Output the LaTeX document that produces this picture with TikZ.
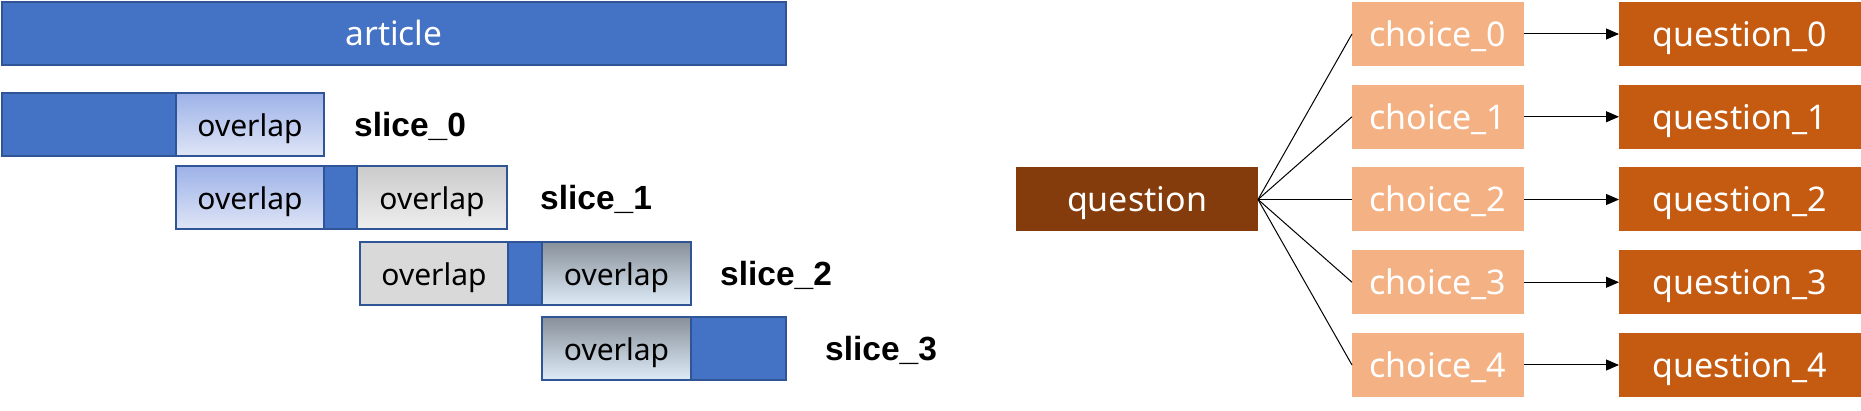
\documentclass[tikz,border=0pt]{standalone}
\usepackage{fontspec}
\setmainfont{Noto Sans}
\newfontfamily\labfont{Liberation Sans}
\usetikzlibrary{arrows.meta}
\definecolor{ablue}{HTML}{4472C4}
\definecolor{aborder}{HTML}{2F5597}
\definecolor{ovAtop}{RGB}{158,178,232}
\definecolor{ovAbot}{RGB}{222,229,246}
\definecolor{gtop}{RGB}{203,203,203}
\definecolor{gbot}{RGB}{238,238,238}
\definecolor{gflat}{HTML}{D9D9D9}
\definecolor{ovCtop}{RGB}{136,144,154}
\definecolor{ovCbot}{RGB}{222,236,248}
\definecolor{qdark}{HTML}{843C0C}
\definecolor{qmid}{HTML}{C55A11}
\definecolor{qlight}{HTML}{F4B183}
\tikzset{
  part/.style={anchor=north west, inner sep=0pt, outer sep=0pt, draw=aborder, line width=1.6pt,
    minimum height=63pt, text height=25pt, text depth=0pt,
    font=\fontsize{30}{33}\selectfont, text=black},
  bluepart/.style={part, fill=ablue},
  ovA/.style={part, top color=ovAtop, bottom color=ovAbot},
  ovG/.style={part, top color=gtop, bottom color=gbot},
  ovF/.style={part, fill=gflat},
  ovC/.style={part, top color=ovCtop, bottom color=ovCbot},
  slicelabel/.style={anchor=base west, inner sep=0pt, font=\labfont\bfseries\fontsize{33.5}{37}\selectfont, text=black},
  qbox/.style={anchor=north west, inner sep=0pt, outer sep=0pt, minimum height=64pt,
    text height=25pt, text depth=0pt, font=\fontsize{34}{37}\selectfont, text=white},
  conn/.style={draw=black, line width=1pt},
  arr/.style={conn, -{Triangle[length=13pt,width=11pt]}}
}
\begin{document}
\begin{tikzpicture}[x=1pt,y=-1pt]
\useasboundingbox (0,0) rectangle (1861,411);
% article
\node[bluepart, minimum width=784pt, text=white, font=\fontsize{33.5}{37}\selectfont] (article) at (2,2) {article};
% slice 0
\node[bluepart, minimum width=174pt] (s0a) at (2,93) {};
\node[ovA, minimum width=148pt] (s0b) at (176,93) {overlap};
\node[slicelabel] (l0) at (354,137) {slice\_0};
% slice 1
\node[ovA, minimum width=148pt] (s1a) at (176,166) {overlap};
\node[bluepart, minimum width=33pt] (s1b) at (324,166) {};
\node[ovG, minimum width=150pt] (s1c) at (357,166) {overlap};
\node[slicelabel] (l1) at (540,210) {slice\_1};
% slice 2
\node[ovF, minimum width=148pt] (s2a) at (360,242) {overlap};
\node[bluepart, minimum width=34pt] (s2b) at (508,242) {};
\node[ovC, minimum width=149pt] (s2c) at (542,242) {overlap};
\node[slicelabel] (l2) at (720,286) {slice\_2};
% slice 3
\node[ovC, minimum width=149pt] (s3a) at (542,317) {overlap};
\node[bluepart, minimum width=95pt] (s3b) at (691,317) {};
\node[slicelabel] (l3) at (825,361) {slice\_3};
% right part
\node[qbox, fill=qdark, minimum width=242pt] (q) at (1016,167.5) {question};
\foreach \i in {0,...,4}{
  \node[qbox, fill=qlight, minimum width=172pt] (c\i) at (1352,{2+82.75*\i}) {choice\_\i};
  \node[qbox, fill=qmid, minimum width=242pt] (q\i) at (1619,{2+82.75*\i}) {question\_\i};
  \draw[conn] (q.east) -- (c\i.west);
  \draw[arr] (c\i.east) -- (q\i.west);
}
\end{tikzpicture}
\end{document}
